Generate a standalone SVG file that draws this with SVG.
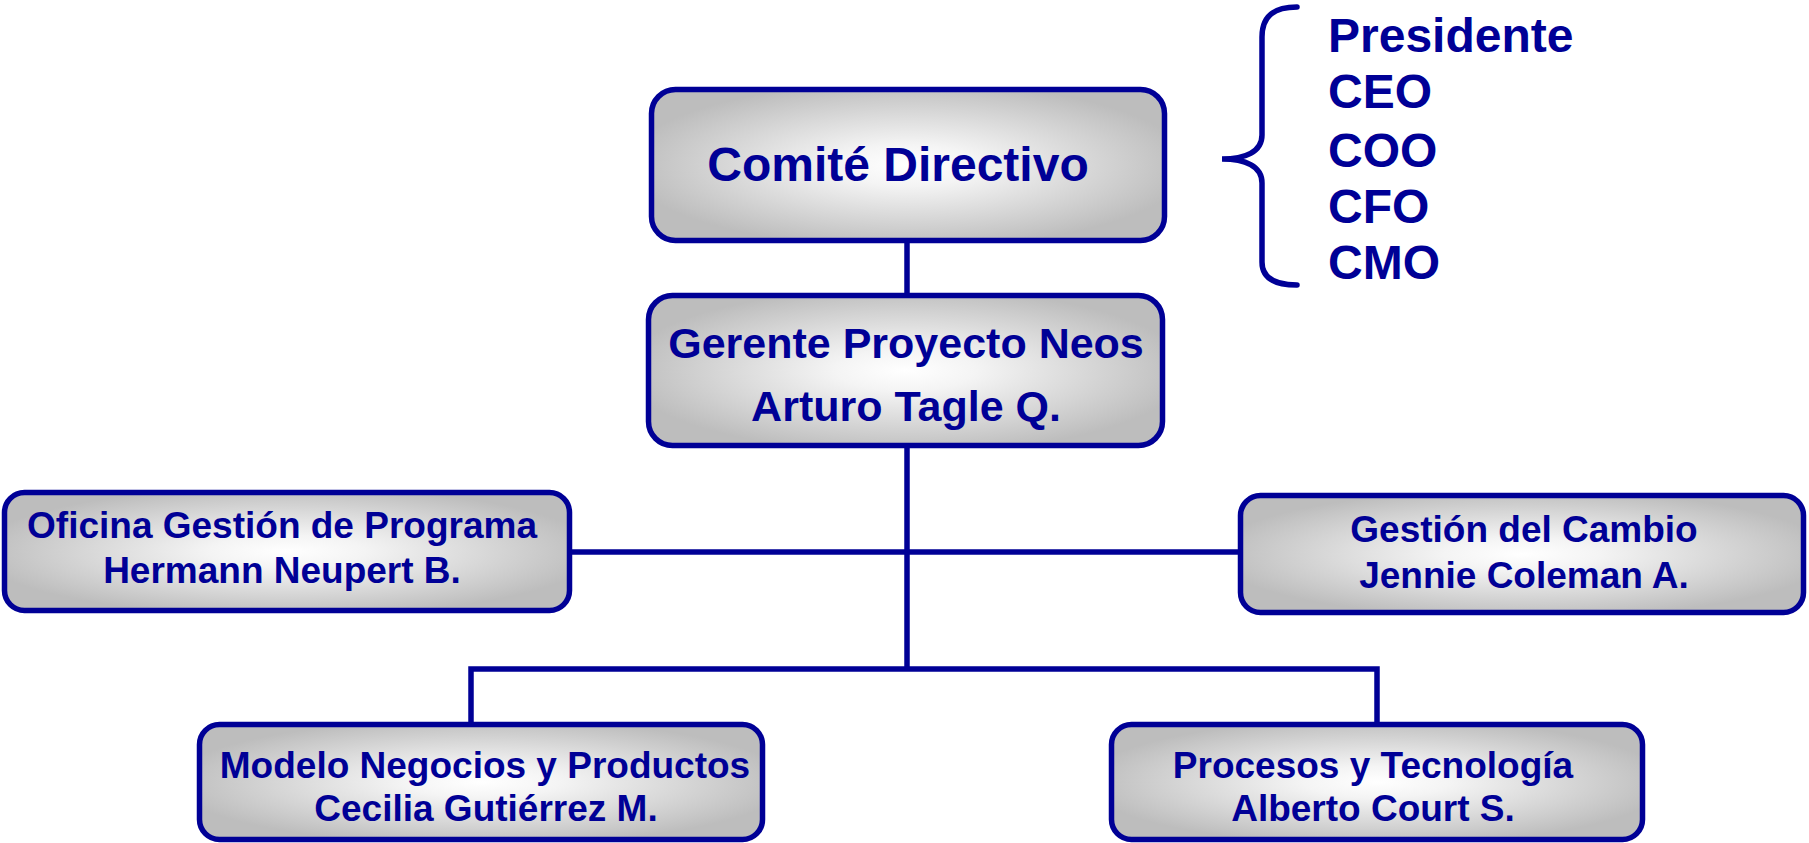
<svg xmlns="http://www.w3.org/2000/svg" width="1809" height="843" viewBox="0 0 1809 843">
<defs>
<radialGradient id="g" cx="50%" cy="50%" r="55%">
<stop offset="0" stop-color="#ffffff"/>
<stop offset="0.25" stop-color="#f4f4f4"/>
<stop offset="1" stop-color="#bdbdbd"/>
</radialGradient>
<style>
.box{fill:url(#g);stroke:#000096;stroke-width:5.5}
.t{font-family:"Liberation Sans",Arial,sans-serif;font-weight:bold;fill:#000096;text-anchor:middle}
.c{fill:none;stroke:#000096;stroke-width:5.5;stroke-linecap:butt}
.l{font-family:"Liberation Sans",Arial,sans-serif;font-weight:bold;fill:#000096;font-size:48px}
</style>
</defs>
<rect width="1809" height="843" fill="#ffffff"/>
<g id="connectors">
<path class="c" d="M907,243 V293"/>
<path class="c" d="M907,448 V669"/>
<path class="c" d="M572,552 H1238"/>
<path class="c" d="M471,722 V669 H1377 V722"/>
<path class="c" style="stroke-linecap:round" d="M1297,7 C1275,7 1262,15 1262,37 L1262,135 C1262,152 1245,159 1222,159 C1245,159 1262,166 1262,183 L1262,262 C1262,278 1275,285 1297,285"/>
</g>
<g id="comite">
<rect class="box" x="651.5" y="89.5" width="513" height="151" rx="24"/>
<text class="t" x="898" y="181" font-size="48">Comité Directivo</text>
</g>
<g id="miembros">
<text class="l" x="1328" y="52">Presidente</text>
<text class="l" x="1328" y="108">CEO</text>
<text class="l" x="1328" y="167">COO</text>
<text class="l" x="1328" y="223">CFO</text>
<text class="l" x="1328" y="279">CMO</text>
</g>
<g id="gerente">
<rect class="box" x="648.5" y="295.5" width="514" height="150" rx="24"/>
<text class="t" x="906" y="358" font-size="43">Gerente Proyecto Neos</text>
<text class="t" x="906" y="421" font-size="43">Arturo Tagle Q.</text>
</g>
<g id="oficina">
<rect class="box" x="4.5" y="492.5" width="565" height="118" rx="20"/>
<text class="t" x="282" y="538" font-size="37">Oficina Gestión de Programa</text>
<text class="t" x="282" y="583" font-size="37">Hermann Neupert B.</text>
</g>
<g id="cambio">
<rect class="box" x="1240.5" y="495.5" width="563" height="117" rx="20"/>
<text class="t" x="1524" y="542" font-size="37">Gestión del Cambio</text>
<text class="t" x="1524" y="588" font-size="37">Jennie Coleman A.</text>
</g>
<g id="modelo">
<rect class="box" x="199.5" y="724.5" width="563" height="115" rx="20"/>
<text class="t" x="485" y="778" font-size="37">Modelo Negocios y Productos</text>
<text class="t" x="486" y="821" font-size="37">Cecilia Gutiérrez M.</text>
</g>
<g id="procesos">
<rect class="box" x="1111.5" y="724.5" width="531" height="115" rx="20"/>
<text class="t" x="1373" y="778" font-size="37">Procesos y Tecnología</text>
<text class="t" x="1373" y="821" font-size="37">Alberto Court S.</text>
</g>
</svg>
